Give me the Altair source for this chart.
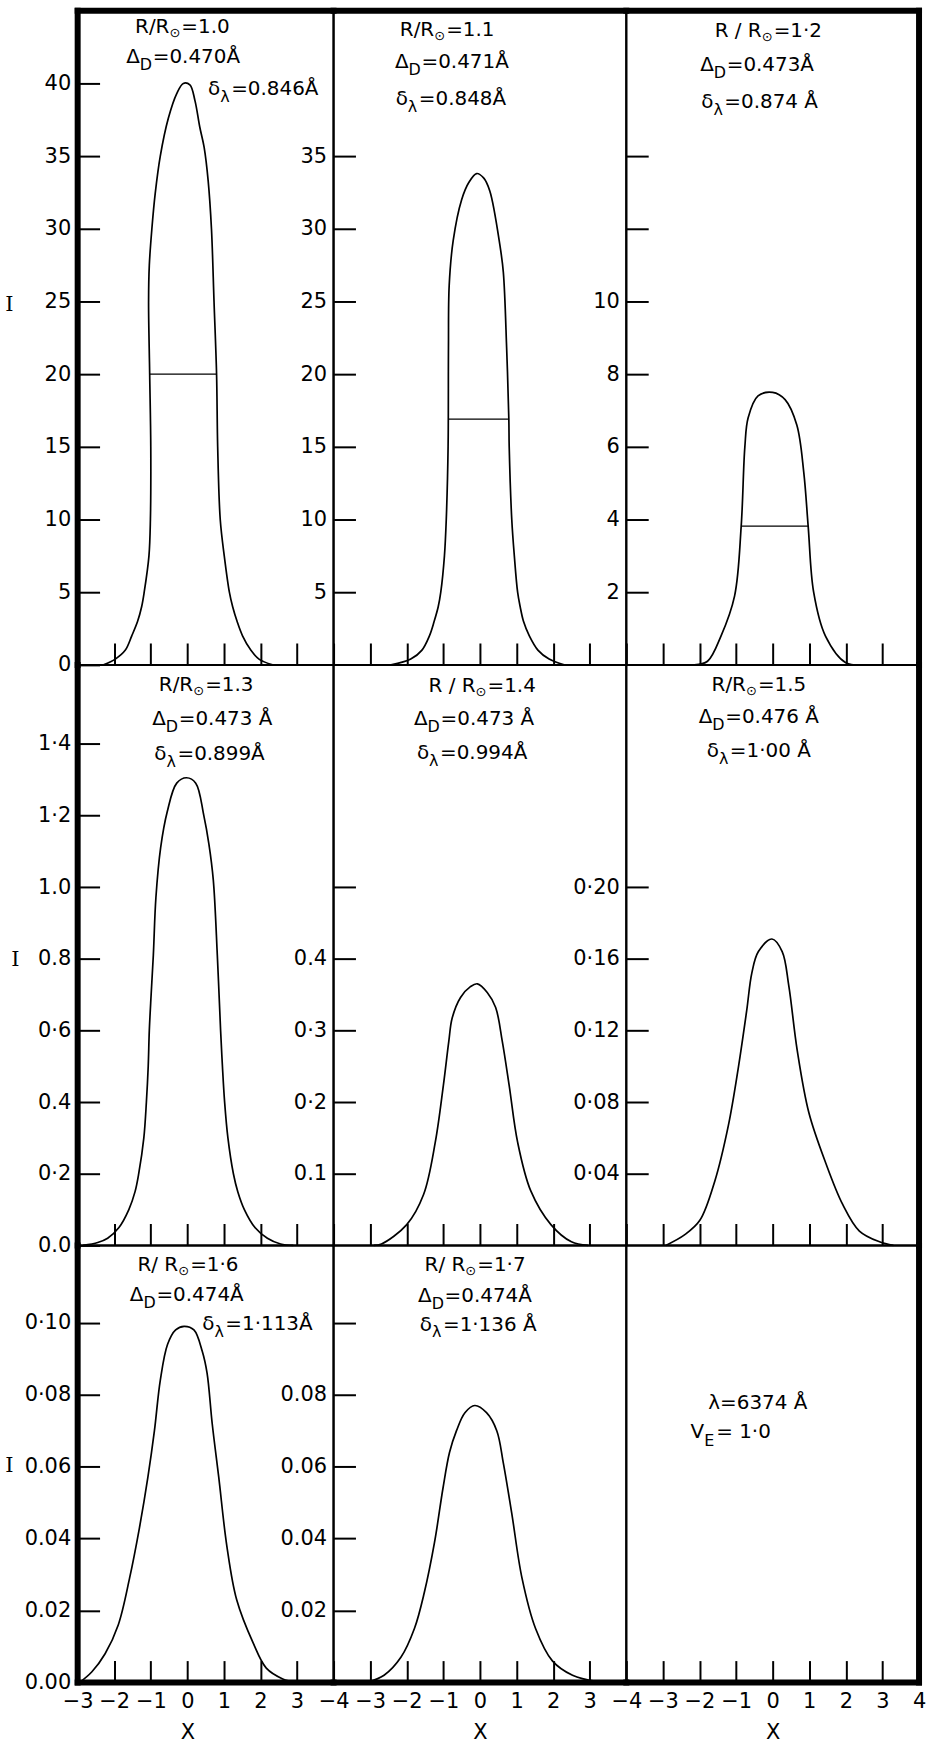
import json
import altair as alt
import pandas as pd

FONT = "DejaVu Sans"
SERIF = "DejaVu Serif"
FS_TICK = 21
FS_NOTE = 20
TICK = 22

# ---------------- curve data (x, I) ----------------
r10_x = [-2.29, -1.97, -1.70, -1.52, -1.36, -1.25, -1.18, -1.05, -1.01, -1.0, -1.03, -1.06, -1.04, -0.97, -0.88,
         -0.74, -0.52, -0.29, -0.11, 0.07, 0.21, 0.34, 0.46, 0.57, 0.66, 0.73, 0.80, 0.83, 0.90, 1.01,
         1.15, 1.24, 1.36, 1.51, 1.74, 1.96, 2.33]
r10_y = [0, 0.4, 1, 2, 3, 4, 5, 7.5, 10, 15, 20, 25, 27.5, 30, 32.4,
         35, 37.6, 39.3, 40, 39.9, 38.8, 37, 35.6, 33.3, 30, 25, 20, 15, 10, 7.5,
         5, 4, 3, 2, 1, 0.4, 0]

r11_x = [-2.43, -1.89, -1.59, -1.38, -1.25, -1.14, -1.07, -0.97, -0.92, -0.87, -0.86, -0.84, -0.73, -0.5, -0.3,
         -0.09, 0.1, 0.27, 0.55, 0.64, 0.73, 0.79, 0.80, 0.87, 0.94, 1.03, 1.10, 1.19, 1.35, 1.59, 1.89, 2.30]
r11_y = [0, 0.4, 1, 2, 3, 4, 5, 7.5, 10, 15, 21.8, 26.1, 29.2, 32.0, 33.2,
         33.8, 33.5, 32.6, 28.8, 27.0, 21.8, 16.9, 15, 10, 7.5, 5, 4, 3, 2, 1, 0.4, 0]

r12_x = [-2.14, -1.78, -1.41, -1.04, -0.86, -0.76, -0.67, -0.40, 0.0, 0.34, 0.66, 0.85, 0.97, 1.12, 1.44, 2.0, 2.55]
r12_y = [0, 0.1, 0.8, 1.9, 3.82, 6.0, 6.8, 7.4, 7.5, 7.3, 6.6, 5.3, 3.82, 2.0, 0.8, 0.06, 0]

r13_x = [-2.85, -2.45, -2.18, -1.87, -1.6, -1.43, -1.33, -1.19, -1.12, -1.07, -1.04, -0.99, -0.93, -0.86, -0.73,
         -0.55, -0.29, -0.02, 0.23, 0.45, 0.59, 0.71, 0.82, 0.91, 0.96, 1.02, 1.11, 1.26, 1.38, 1.56,
         1.85, 2.19, 2.55, 2.9]
r13_y = [0, 0.008, 0.02, 0.05, 0.1, 0.15, 0.2, 0.3, 0.4, 0.5, 0.6, 0.7, 0.81, 0.97, 1.11,
         1.21, 1.29, 1.305, 1.29, 1.2, 1.12, 1.02, 0.81, 0.6, 0.5, 0.4, 0.3, 0.2, 0.15, 0.1,
         0.05, 0.02, 0.004, 0]

r14_x = [-2.9, -2.69, -2.0, -1.54, -1.22, -1.0, -0.85, -0.76, -0.53, -0.26, -0.07, 0.2, 0.43, 0.61, 0.8, 1.03,
         1.39, 1.94, 2.5, 2.95]
r14_y = [0, 0.002, 0.029, 0.071, 0.144, 0.223, 0.285, 0.317, 0.346, 0.361, 0.365, 0.353, 0.332, 0.285, 0.223,
         0.144, 0.076, 0.029, 0.005, 0]

r15_x = [-2.92, -2.4, -1.99, -1.58, -1.21, -0.94, -0.71, -0.57, -0.39, -0.02, 0.26, 0.44, 0.67, 0.99, 1.45,
         1.91, 2.37, 2.92, 3.3]
r15_y = [0, 0.006, 0.014, 0.036, 0.067, 0.099, 0.131, 0.152, 0.164, 0.171, 0.164, 0.145, 0.109, 0.074, 0.046,
         0.023, 0.008, 0.002, 0]

r16_x = [-2.95, -2.61, -2.25, -1.89, -1.58, -1.31, -1.08, -0.9, -0.74, -0.54, -0.32, -0.09, 0.18, 0.41, 0.54,
         0.68, 0.86, 1.08, 1.35, 1.8, 2.16, 2.61, 2.97]
r16_y = [0, 0.003, 0.008, 0.016, 0.029, 0.043, 0.057, 0.07, 0.084, 0.094, 0.098, 0.099, 0.098, 0.092, 0.086,
         0.072, 0.057, 0.038, 0.023, 0.011, 0.004, 0.001, 0]

r17_x = [-3.08, -2.62, -2.16, -1.79, -1.52, -1.24, -1.01, -0.83, -0.64, -0.41, -0.14, 0.18, 0.46, 0.64, 0.87,
         1.15, 1.52, 1.98, 2.53, 3.17, 3.73]
r17_y = [0, 0.002, 0.007, 0.015, 0.025, 0.039, 0.054, 0.064, 0.07, 0.075, 0.077, 0.075, 0.07, 0.061, 0.047,
         0.029, 0.015, 0.006, 0.002, 0.0003, 0]

# half-maximum lines: [x1, x2, I]
r10_half = [-1.03, 0.80, 20.0]
r11_half = [-0.87, 0.79, 16.9]
r12_half = [-0.86, 0.97, 3.82]

# ---------------- axes ----------------
x_ticks_c1 = [-3, -2, -1, 0, 1, 2, 3]
x_ticks_c2 = [-4, -3, -2, -1, 0, 1, 2, 3]
x_ticks_c3 = [-4, -3, -2, -1, 0, 1, 2, 3, 4]

r10_yt = [0, 5, 10, 15, 20, 25, 30, 35, 40]
r10_yl = ["0", "5", "10", "15", "20", "25", "30", "35", "40"]
r11_yt = [5, 10, 15, 20, 25, 30, 35]
r11_yl = ["5", "10", "15", "20", "25", "30", "35"]
r12_yt = [2, 4, 6, 8, 10, 12, 14]
r12_yl = ["2", "4", "6", "8", "10", "", ""]
r13_yt = [0, 0.2, 0.4, 0.6, 0.8, 1.0, 1.2, 1.4]
r13_yl = ["0.0", "0·2", "0.4", "0·6", "0.8", "1.0", "1·2", "1·4"]
r14_yt = [0.1, 0.2, 0.3, 0.4, 0.5]
r14_yl = ["0.1", "0·2", "0·3", "0.4", ""]
r15_yt = [0.04, 0.08, 0.12, 0.16, 0.2]
r15_yl = ["0·04", "0·08", "0·12", "0·16", "0·20"]
r16_yt = [0, 0.02, 0.04, 0.06, 0.08, 0.1]
r16_yl = ["0.00", "0.02", "0.04", "0.06", "0·08", "0·10"]
r17_yt = [0.02, 0.04, 0.06, 0.08, 0.1]
r17_yl = ["0.02", "0.04", "0.06", "0.08", ""]

# ---------------- annotations: prefix, subscript, rest, anchor x, I ----------------
r10_pre = ["R/R", "Δ", "δ"]; r10_sub = ["⊙", "D", "λ"]; r10_rest = ["=1.0", "=0.470Å", "=0.846Å"]
r10_ax = [-0.49, -1.30, 0.9]; r10_ay = [43.9, 41.8, 39.6]
r11_pre = ["R/R", "Δ", "δ"]; r11_sub = ["⊙", "D", "λ"]; r11_rest = ["=1.1", "=0.471Å", "=0.848Å"]
r11_ax = [-1.25, -1.95, -1.97]; r11_ay = [43.7, 41.5, 38.9]
r12_pre = ["R / R", "Δ", "δ"]; r12_sub = ["⊙", "D", "λ"]; r12_rest = ["=1·2", "=0.473Å", "=0.874 Å"]
r12_ax = [-0.30, -1.61, -1.62]; r12_ay = [17.45, 16.5, 15.5]
r13_pre = ["R/R", "Δ", "δ"]; r13_sub = ["⊙", "D", "λ"]; r13_rest = ["=1.3", "=0.473 Å", "=0.899Å"]
r13_ax = [0.16, -0.59, -0.57]; r13_ay = [1.565, 1.47, 1.37]
r14_pre = ["R / R", "Δ", "δ"]; r14_sub = ["⊙", "D", "λ"]; r14_rest = ["=1.4", "=0.473 Å", "=0.994Å"]
r14_ax = [-0.12, -1.43, -1.39]; r14_ay = [0.78, 0.735, 0.687]
r15_pre = ["R/R", "Δ", "δ"]; r15_sub = ["⊙", "D", "λ"]; r15_rest = ["=1.5", "=0.476 Å", "=1·00 Å"]
r15_ax = [-0.73, -1.65, -1.47]; r15_ay = [0.313, 0.295, 0.276]
r16_pre = ["R/ R", "Δ", "δ"]; r16_sub = ["⊙", "D", "λ"]; r16_rest = ["=1·6", "=0.474Å", "=1·113Å"]
r16_ax = [-0.25, -1.2, 0.74]; r16_ay = [0.116, 0.1077, 0.0997]
r17_pre = ["R/ R", "Δ", "δ"]; r17_sub = ["⊙", "D", "λ"]; r17_rest = ["=1·7", "=0.474Å", "=1·136 Å"]
r17_ax = [-0.4, -1.32, -1.31]; r17_ay = [0.116, 0.1075, 0.0995]
info_pre = ["", "V"]; info_sub = ["", "E"]; info_rest = ["λ=6374 Å", "= 1·0"]
info_ax = [-1.76, -1.87]; info_ay = [0.0776, 0.0697]

# ---------------- layout ----------------
COL_W = [257, 294, 294]
ROW_H = [657, 583, 439]
COL_XDOM = [[-3, 4], [-4, 4], [-4, 4]]
COL_XT = [x_ticks_c1, x_ticks_c2, x_ticks_c3]
ROW_YDOM = [[[0, 45], [0, 45], [0, 18]],
            [[0, 1.62], [0, 0.81], [0, 0.324]],
            [[0, 0.1215], [0, 0.1215], [0, 0.1215]]]
I_TITLE = [(-91, 295), (-85, 296), (-91, 221)]

# subscript: (font size, dy, width used to place the rest of the text)
SUB_STYLE = {"⊙": (13, 6, 12), "D": (16, 8, 13), "λ": (16, 8, 11), "E": (16, 9, 12), "": (16, 8, 0)}

panels = [
    [(r10_x, r10_y, r10_half, r10_yt, r10_yl, (r10_pre, r10_sub, r10_rest, r10_ax, r10_ay)),
     (r11_x, r11_y, r11_half, r11_yt, r11_yl, (r11_pre, r11_sub, r11_rest, r11_ax, r11_ay)),
     (r12_x, r12_y, r12_half, r12_yt, r12_yl, (r12_pre, r12_sub, r12_rest, r12_ax, r12_ay))],
    [(r13_x, r13_y, None, r13_yt, r13_yl, (r13_pre, r13_sub, r13_rest, r13_ax, r13_ay)),
     (r14_x, r14_y, None, r14_yt, r14_yl, (r14_pre, r14_sub, r14_rest, r14_ax, r14_ay)),
     (r15_x, r15_y, None, r15_yt, r15_yl, (r15_pre, r15_sub, r15_rest, r15_ax, r15_ay))],
    [(r16_x, r16_y, None, r16_yt, r16_yl, (r16_pre, r16_sub, r16_rest, r16_ax, r16_ay)),
     (r17_x, r17_y, None, r17_yt, r17_yl, (r17_pre, r17_sub, r17_rest, r17_ax, r17_ay)),
     (None, None, None, None, None, (info_pre, info_sub, info_rest, info_ax, info_ay))],
]


def make_panel(r, c, spec):
    cx, cy, half, yt, yl, notes = spec
    w, h = COL_W[c], ROW_H[r]
    xdom = COL_XDOM[c]
    ydom = ROW_YDOM[r][c]
    unit = w / (xdom[1] - xdom[0])
    xs = alt.Scale(domain=xdom, nice=False, zero=False)
    ys = alt.Scale(domain=ydom, nice=False, zero=False)
    bottom = r == 2
    xkw = dict(values=COL_XT[c], tickSize=TICK, tickColor="black", tickWidth=2, domain=False, grid=False,
               offset=-TICK, labels=bottom, labelPadding=8, labelFlush=False, labelOverlap=False,
               labelFont=FONT, labelFontSize=FS_TICK, labelColor="black")
    if bottom:
        zero_px = (0 - xdom[0]) * unit
        xkw.update(title="X", titleFont=FONT, titleFontSize=21, titleFontWeight="normal", titleColor="black",
                   titleX=zero_px, titleY=72, titleAlign="center", titleBaseline="middle")
    else:
        xkw.update(title=None)
    xaxis = alt.Axis(**xkw)
    if yt is not None:
        expr = "%s[indexof(%s, datum.value)]" % (json.dumps(yl, ensure_ascii=False), json.dumps(yt))
        ykw = dict(values=yt, labelExpr=expr, tickSize=TICK, tickColor="black", tickWidth=2, domain=False,
                   grid=False, offset=-TICK, labelPadding=7, labelFlush=False, labelOverlap=False,
                   labelFont=FONT, labelFontSize=FS_TICK, labelColor="black")
        if c == 0:
            tx, ty = I_TITLE[r]
            ykw.update(title="I", titleFont=SERIF, titleFontSize=21, titleFontWeight="normal", titleColor="black",
                       titleAngle=0, titleX=tx, titleY=ty, titleAlign="center", titleBaseline="middle")
        else:
            ykw.update(title=None)
        yaxis = alt.Axis(**ykw)
    else:
        yaxis = None

    def X(f):
        return alt.X(f, type="quantitative", scale=xs, axis=xaxis)

    def Y(f):
        return alt.Y(f, type="quantitative", scale=ys, axis=yaxis)

    layers = []
    if cx is not None:
        df = pd.DataFrame({"x": cx, "y": cy, "i": list(range(len(cx)))})
        layers.append(alt.Chart(df).mark_line(color="black", strokeWidth=1.7, interpolate="catmull-rom")
                      .encode(x=X("x"), y=Y("y"), order=alt.Order("i:Q")))
    else:
        df = pd.DataFrame({"x": [xdom[0]], "y": [ydom[0]]})
        layers.append(alt.Chart(df).mark_point(opacity=0).encode(x=X("x"), y=Y("y")))
    if half is not None:
        hd = pd.DataFrame({"x": [half[0]], "x2": [half[1]], "y": [half[2]]})
        layers.append(alt.Chart(hd).mark_rule(color="black", strokeWidth=1.3)
                      .encode(x=X("x"), x2="x2:Q", y=Y("y")))

    pre, sub, rest, ax, ay = notes
    nd = pd.DataFrame({"x": ax, "y": ay, "pre": pre, "sub": sub, "rest": rest})
    nd["xr"] = [a + SUB_STYLE[s][2] / unit for a, s in zip(ax, sub)]
    layers.append(alt.Chart(nd).mark_text(align="right", baseline="middle", font=FONT, fontSize=FS_NOTE,
                                          color="black")
                  .encode(x=X("x"), y=Y("y"), text="pre:N"))
    for s, (fs, dy, _) in SUB_STYLE.items():
        if s == "" or s not in sub:
            continue
        sd = nd[nd["sub"] == s]
        layers.append(alt.Chart(sd).mark_text(align="left", baseline="middle", font=FONT, fontSize=fs, dy=dy,
                                              color="black")
                      .encode(x=X("x"), y=Y("y"), text="sub:N"))
    layers.append(alt.Chart(nd).mark_text(align="left", baseline="middle", font=FONT, fontSize=FS_NOTE,
                                          color="black")
                  .encode(x=X("xr"), y=Y("y"), text="rest:N"))

    # thick outer frame (same axis specs so the panel axes are kept)
    frame = alt.Chart(pd.DataFrame({"k": [0]}))
    fkw = dict(color="black", strokeWidth=6, strokeCap="square")
    if c == 0:
        layers.append(frame.mark_rule(**fkw).encode(x=alt.X(datum=xdom[0], type="quantitative", scale=xs, axis=xaxis)))
    if c == 2:
        layers.append(frame.mark_rule(**fkw).encode(x=alt.X(datum=xdom[1], type="quantitative", scale=xs, axis=xaxis)))
    if r == 0:
        layers.append(frame.mark_rule(**fkw).encode(y=alt.Y(datum=ydom[1], type="quantitative", scale=ys, axis=yaxis)))
    if r == 2:
        layers.append(frame.mark_rule(**fkw).encode(y=alt.Y(datum=ydom[0], type="quantitative", scale=ys, axis=yaxis)))

    return alt.layer(*layers).properties(width=w, height=h)


cells = [make_panel(r, c, panels[r][c]) for r in range(3) for c in range(3)]

chart = alt.concat(*cells, columns=3, spacing=0, bounds="flush").properties(
    padding={"left": 3, "top": 1, "right": 0, "bottom": 0}
).configure(
    background="white",
    view=alt.ViewConfig(stroke="black", strokeWidth=2),
)

chart.save("out.html", embed_options={"renderer": "svg", "actions": False})
